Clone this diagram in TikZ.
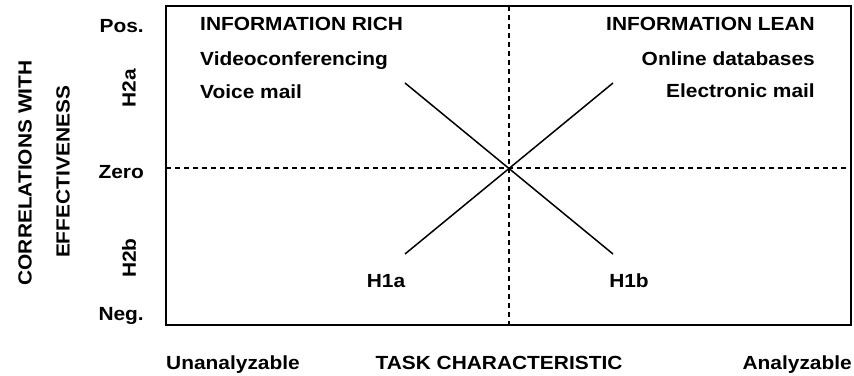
\documentclass[tikz,border=0pt]{standalone}
\usepackage{fontspec}
\setmainfont{Liberation Sans}[FakeStretch=1.1]
\usetikzlibrary{positioning, calc}

\begin{document}
\begin{tikzpicture}[x=1pt, y=-1pt,
        lbl/.style={font=\fontsize{19}{21}\selectfont\bfseries, inner sep=0pt},
        axislbl/.style={lbl, rotate=90},
        frame/.style={draw, line width=1.8pt},
        guide/.style={draw, line width=1.1pt, dash pattern=on 5pt off 4pt},
        hyp/.style={draw, line width=1.5pt}
    ]
        \useasboundingbox (0,0) rectangle (854,375);

        % Frame and zero / midpoint guides
        \coordinate (tl) at (166,6);
        \coordinate (br) at (851,325);
        \path[frame] (tl) rectangle (br);
        \coordinate (zl) at (166,168);
        \coordinate (zr) at (851,168);
        \coordinate (mt) at (509,6);
        \coordinate (mb) at (509,325);
        \path[guide] (zl) -- (zr);
        \path[guide] (mt) -- (mb);

        % Hypothesis lines
        \coordinate (h1a0) at (405,254);
        \coordinate (h1a1) at (613,83);
        \coordinate (h1b0) at (405,83);
        \coordinate (h1b1) at (613,254);
        \path[hyp] (h1a0) -- (h1a1);
        \path[hyp] (h1b0) -- (h1b1);
        \node[lbl, anchor=base] (h1a) at (386,287) {H1a};
        \node[lbl, anchor=base] (h1b) at (629,287) {H1b};

        % Vertical axis
        \node[axislbl] (corr) at (25,173) {CORRELATIONS WITH};
        \node[axislbl] (eff) at (63,172) {EFFECTIVENESS};
        \node[lbl, anchor=base east] (pos) at (144,32) {Pos.};
        \node[axislbl] (h2a) at (129,88) {H2a};
        \node[lbl, anchor=base east] (zero) at (144,178) {Zero};
        \node[axislbl] (h2b) at (129,258) {H2b};
        \node[lbl, anchor=base east] (neg) at (144,320) {Neg.};

        % Media examples
        \node[lbl, anchor=base west] (rich) at (200,30) {INFORMATION RICH};
        \node[lbl, anchor=base west] (video) at (200,65) {Videoconferencing};
        \node[lbl, anchor=base west] (voice) at (200,98) {Voice mail};
        \node[lbl, anchor=base east] (lean) at (815,30) {INFORMATION LEAN};
        \node[lbl, anchor=base east] (online) at (815,65) {Online databases};
        \node[lbl, anchor=base east] (email) at (815,97) {Electronic mail};

        % Horizontal axis
        \node[lbl, anchor=base west] (unan) at (166,369) {Unanalyzable};
        \node[lbl, anchor=base] (task) at (499,369) {TASK CHARACTERISTIC};
        \node[lbl, anchor=base east] (anal) at (852,369) {Analyzable};
    \end{tikzpicture}
\end{document}
